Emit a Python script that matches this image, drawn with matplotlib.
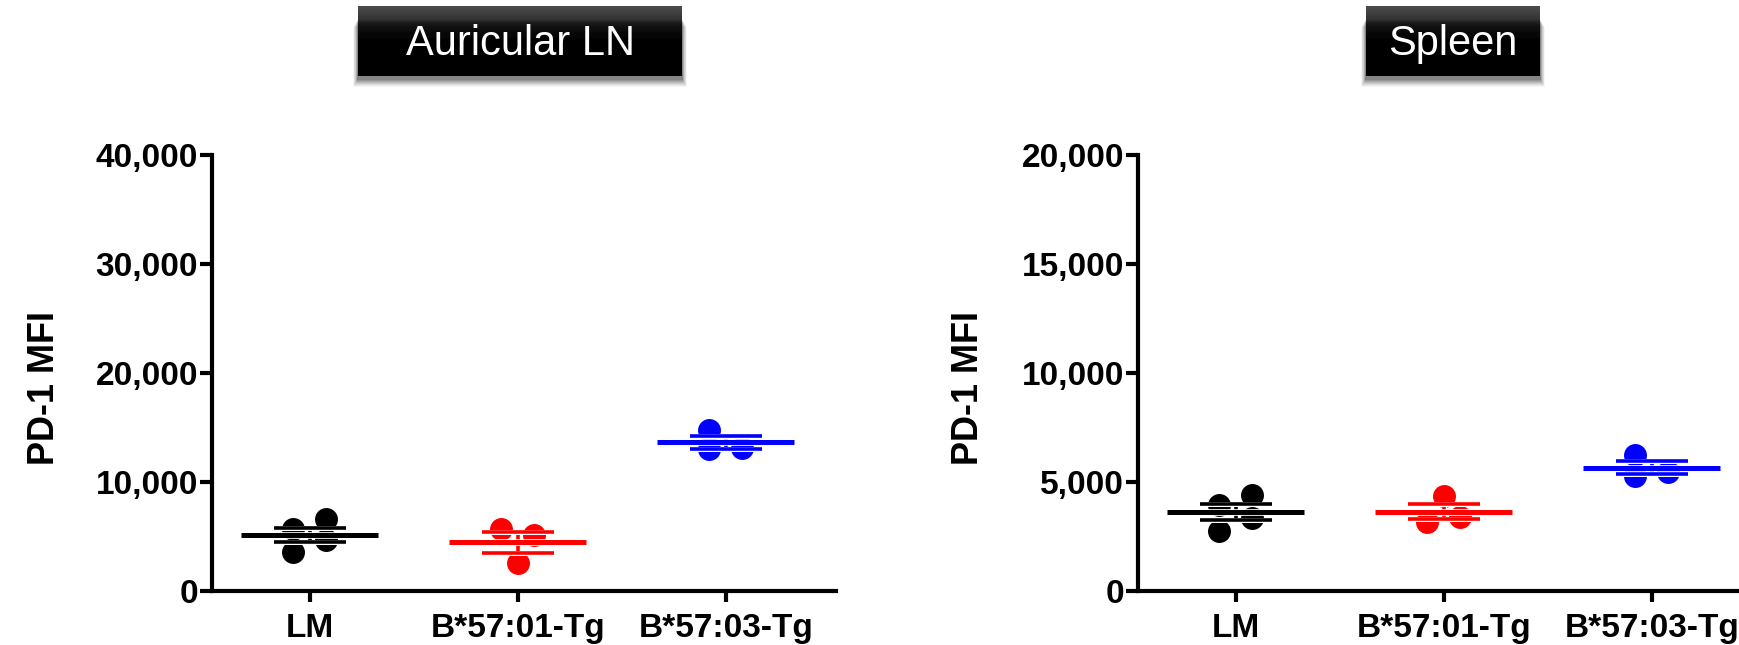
import numpy as np
import matplotlib
matplotlib.use("Agg")
import matplotlib.pyplot as plt
import matplotlib.patheffects as pe
from matplotlib.ticker import FuncFormatter, FixedLocator
from matplotlib.patches import Rectangle

plt.rcParams['font.family'] = ['Liberation Sans', 'DejaVu Sans']

# ---------------- data ----------------
categories = ["LM", "B*57:01-Tg", "B*57:03-Tg"]
panel_titles = ["Auricular LN", "Spleen"]
y_label = "PD-1 MFI"

auricular_lm = [5700, 3550, 6600, 4700]
auricular_b5701 = [5690, 5140, 2570]
auricular_b5703 = [14770, 13030, 13100]

spleen_lm = [3950, 2750, 4400, 3350]
spleen_b5701 = [4338, 3185, 3415]
spleen_b5703 = [6231, 5262, 5462]

auricular_ticks = [0, 10000, 20000, 30000, 40000]
spleen_ticks = [0, 5000, 10000, 15000, 20000]

colors = ["#000000", "#FF0000", "#0000FF"]

# layout (horizontal spread of the dots inside each column)
jit_lm = [-0.08, -0.08, 0.08, 0.08]
jit_aur_01 = [-0.08, 0.08, 0.0]
jit_aur_03 = [-0.08, -0.08, 0.08]
jit_spl_01 = [0.0, -0.08, 0.08]
jit_spl_03 = [-0.08, -0.08, 0.08]

W, H = 1739, 645
fig = plt.figure(figsize=(W / 100, H / 100), dpi=100)


def px_rect(x0, y_top, w, h):
    return [x0 / W, (H - y_top - h) / H, w / W, h / H]


def draw_panel(ax, groups, jitters, ticks):
    halo = [pe.withStroke(linewidth=3.6, foreground="white")]
    halo_m = [pe.withStroke(linewidth=4.8, foreground="white")]
    for i, (vals, jit) in enumerate(zip(groups, jitters)):
        vals = np.asarray(vals, dtype=float)
        c = colors[i]
        xs = i + np.asarray(jit)
        ax.plot(xs, vals, "o", ms=15.5, color=c, mec=c, zorder=2, clip_on=False)
        m = vals.mean()
        sem = vals.std(ddof=1) / np.sqrt(len(vals))
        ax.plot([i, i], [m - sem, m + sem], color=c, lw=2.6, zorder=3,
                solid_capstyle="butt", path_effects=halo)
        for yv in (m - sem, m + sem):
            ax.plot([i - 0.173, i + 0.173], [yv, yv], color=c, lw=2.6, zorder=3.5,
                    solid_capstyle="butt", path_effects=halo)
        ax.plot([i - 0.33, i + 0.33], [m, m], color=c, lw=3.6, zorder=4,
                solid_capstyle="butt", path_effects=halo_m)
    ax.set_xlim(-0.47, 2.53)
    ax.set_ylim(0, ticks[-1])
    ax.yaxis.set_major_locator(FixedLocator(ticks))
    ax.yaxis.set_major_formatter(FuncFormatter(lambda v, p: f"{int(v):,}"))
    ax.set_xticks(range(len(categories)))
    ax.set_xticklabels(categories)
    for s in ("top", "right"):
        ax.spines[s].set_visible(False)
    for s in ("left", "bottom"):
        ax.spines[s].set_linewidth(3.0)
        ax.spines[s].set_capstyle("projecting")
    ax.tick_params(axis="y", direction="out", length=8.5, width=3.0, pad=1.5,
                   labelsize=24)
    ax.tick_params(axis="x", direction="out", length=8.0, width=3.0, pad=8,
                   labelsize=24)
    for lab in ax.get_xticklabels() + ax.get_yticklabels():
        lab.set_fontweight("bold")
    ax.patch.set_alpha(0)


ax1 = fig.add_axes(px_rect(212, 155, 624, 436))
draw_panel(ax1, [auricular_lm, auricular_b5701, auricular_b5703],
           [jit_lm, jit_aur_01, jit_aur_03], auricular_ticks)

ax2 = fig.add_axes(px_rect(1138, 155, 624, 436))
draw_panel(ax2, [spleen_lm, spleen_b5701, spleen_b5703],
           [jit_lm, jit_spl_01, jit_spl_03], spleen_ticks)

# y labels
fig.text(45 / W, 1 - 388 / H, y_label, rotation=90, ha="center", va="center",
         fontsize=26, fontweight="bold")
fig.text(969 / W, 1 - 388 / H, y_label, rotation=90, ha="center", va="center",
         fontsize=26, fontweight="bold")

# title boxes with glossy gradient and soft drop shadow
t = np.linspace(0, 1, 100)
g = np.clip(0.30 * (1 - t / 0.55), 0, None)
grad = g[:, None]


def title_box(x0, x1, text):
    y_top, y_bot = 6, 76
    w = x1 - x0
    h = y_bot - y_top
    # soft shadow, mostly below the box
    for k in range(8, 0, -1):
        a = 0.035 + 0.012 * (8 - k)
        r = Rectangle(((x0 - k * 0.6) / W, (H - y_bot - 3 - k) / H),
                      (w + 1.2 * k) / W, (h - 10) / H,
                      transform=fig.transFigure, facecolor="black",
                      edgecolor="none", alpha=a, zorder=0)
        fig.patches.append(r)
    bax = fig.add_axes(px_rect(x0, y_top, w, h))
    bax.imshow(np.dstack([grad, grad, grad]), aspect="auto",
               extent=[0, 1, 0, 1], interpolation="bilinear")
    bax.set_xlim(0, 1)
    bax.set_ylim(0, 1)
    bax.axis("off")
    fig.text((x0 + x1) / 2 / W, 1 - 55 / H, text, ha="center", va="baseline",
             color="white", fontsize=30, zorder=10)


title_box(358, 682, panel_titles[0])
title_box(1366, 1540, panel_titles[1])

fig.savefig("out.png", dpi=100, facecolor="white")
